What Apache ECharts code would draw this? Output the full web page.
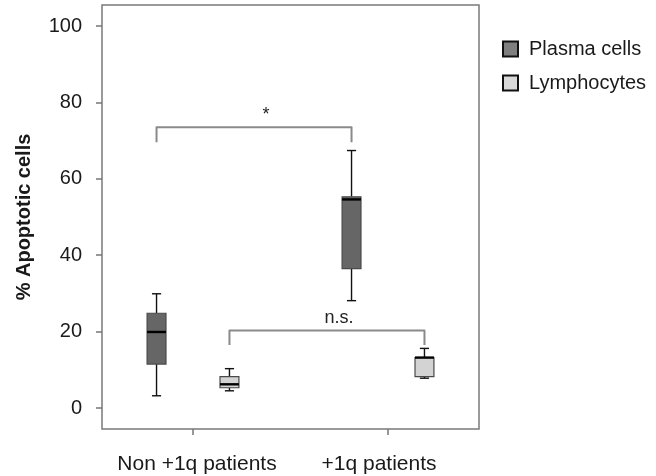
<!DOCTYPE html>
<html>
<head>
<meta charset="utf-8">
<script src="https://cdn.jsdelivr.net/npm/echarts@6/dist/echarts.min.js"></script>
<style>
  html, body { margin: 0; padding: 0; background: #fff; }
  #app { width: 656px; height: 476px; }
</style>
</head>
<body>
<div id="app"></div>
<script>
const groups = ['Non +1q patients', '+1q patients'];
const seriesNames = ['Plasma cells', 'Lymphocytes'];
const yTicks = [0, 20, 40, 60, 80, 100];
// [min, Q1, median, Q3, max] per group
const plasma = [
  [3.2, 11.5, 19.9, 24.8, 29.9],
  [28.1, 36.5, 54.6, 55.3, 67.4]
];
const lympho = [
  [4.5, 5.3, 6.2, 8.2, 10.3],
  [7.8, 8.2, 13.2, 13.2, 15.6]
];
// [series index, from group, to group, bracket foot, bracket top, label]
const brackets = [
  [0, 0, 1, 69.6, 73.5, '*'],
  [1, 0, 1, 16.5, 20.3, 'n.s.']
];

const FONT = 'Liberation Sans, Arial, sans-serif';
const Y_MIN = -5.5, Y_MAX = 105.5;
const SHIFT = 0.187;   // box centre offset, share of band width
const BOX = 0.097;     // box width, share of band width
const CAP = 0.047;     // whisker cap width, share of band width
const myChart = echarts.init(document.getElementById('app'));

const centerX = (api, group, side) => {
  const bw = api.size([1, 0])[0];
  return api.coord([group, 0])[0] + (side === 0 ? -1 : 1) * bw * SHIFT;
};

const renderBox = (params, api) => {
  const g = api.value(0);
  const bw = api.size([1, 0])[0];
  const cx = centerX(api, g, params.seriesIndex);
  const y = k => api.coord([g, api.value(k)])[1];
  const half = bw * BOX / 2, cap = bw * CAP / 2;
  const wStyle = { stroke: '#111', lineWidth: 1.4 };
  return {
    type: 'group',
    children: [
      { type: 'line', shape: { x1: cx, y1: y(1), x2: cx, y2: y(2) }, style: wStyle },
      { type: 'line', shape: { x1: cx, y1: y(4), x2: cx, y2: y(5) }, style: wStyle },
      { type: 'line', shape: { x1: cx - cap, y1: y(1), x2: cx + cap, y2: y(1) }, style: wStyle },
      { type: 'line', shape: { x1: cx - cap, y1: y(5), x2: cx + cap, y2: y(5) }, style: wStyle },
      {
        type: 'rect',
        shape: { x: cx - half, y: y(4), width: half * 2, height: y(2) - y(4) },
        style: { fill: api.visual('color'), stroke: '#4a4a4a', lineWidth: 1.2 }
      },
      { type: 'line', shape: { x1: cx - half, y1: y(3), x2: cx + half, y2: y(3) }, style: { stroke: '#000', lineWidth: 2.4 } }
    ]
  };
};

const renderBracket = (params, api) => {
  const side = api.value(0);
  const x0 = centerX(api, api.value(1), side);
  const x1 = centerX(api, api.value(2), side);
  const yFoot = api.coord([0, api.value(3)])[1];
  const yTop = api.coord([0, api.value(4)])[1];
  const label = brackets[params.dataIndex][5];
  return {
    type: 'group',
    children: [
      {
        type: 'polyline',
        shape: { points: [[x0, yFoot], [x0, yTop], [x1, yTop], [x1, yFoot]] },
        style: { stroke: '#8a8a8a', lineWidth: 2, fill: null, lineJoin: 'round' }
      },
      {
        type: 'text',
        style: {
          text: label,
          x: (x0 + x1) / 2 + 12,
          y: yTop - 12,
          align: 'center',
          verticalAlign: 'middle',
          font: '18px ' + FONT,
          fill: '#222'
        }
      }
    ]
  };
};

const option = {
  animation: false,
  textStyle: { fontFamily: FONT },
  legend: {
    orient: 'vertical',
    left: 497,
    top: 34,
    itemWidth: 15,
    itemHeight: 15,
    itemGap: 14,
    icon: 'rect',
    textStyle: { fontSize: 20, color: '#1a1a1a', padding: [0, 0, 0, 6] },
    data: [
      { name: seriesNames[0], itemStyle: { color: '#7f7f7f', borderColor: '#111', borderWidth: 2 } },
      { name: seriesNames[1], itemStyle: { color: '#d9d9d9', borderColor: '#111', borderWidth: 2 } }
    ]
  },
  grid: [
    { left: 102, right: 177, top: 5, bottom: 47, show: true, borderColor: '#7a7a7a', borderWidth: 1.5 },
    { left: 95.5, right: 170.5, top: 5, bottom: 47 }
  ],
  xAxis: [
    { type: 'category', gridIndex: 0, data: groups, show: false },
    {
      type: 'category',
      gridIndex: 1,
      data: groups.map((g, i) => ({
        value: g,
        textStyle: { padding: i === 0 ? [0, 0, 0, 8] : [0, 18, 0, 0] }
      })),
      axisLine: { show: false, onZero: false },
      axisTick: { show: true, alignWithLabel: true, length: 6, lineStyle: { color: '#777', width: 1.5 } },
      axisLabel: { fontSize: 21, color: '#1a1a1a', margin: 25, interval: 0 },
      splitLine: { show: false }
    }
  ],
  yAxis: [
    {
      type: 'value',
      gridIndex: 0,
      min: Y_MIN,
      max: Y_MAX,
      name: '% Apoptotic cells',
      nameLocation: 'middle',
      nameGap: 68,
      nameTextStyle: { fontSize: 20, fontWeight: 'bold', color: '#1a1a1a' },
      axisLine: { show: false },
      axisTick: { show: true, length: 6, customValues: yTicks, lineStyle: { color: '#777', width: 1.5 } },
      axisLabel: { fontSize: 20, color: '#1a1a1a', margin: 20, customValues: yTicks },
      splitLine: { show: false }
    },
    { type: 'value', gridIndex: 1, min: Y_MIN, max: Y_MAX, show: false, splitLine: { show: false } }
  ],
  series: [
    {
      name: seriesNames[0],
      type: 'custom',
      xAxisIndex: 1,
      yAxisIndex: 1,
      itemStyle: { color: '#666666' },
      renderItem: renderBox,
      data: plasma.map((d, i) => [i].concat(d))
    },
    {
      name: seriesNames[1],
      type: 'custom',
      xAxisIndex: 1,
      yAxisIndex: 1,
      itemStyle: { color: '#d3d3d3' },
      renderItem: renderBox,
      data: lympho.map((d, i) => [i].concat(d))
    },
    {
      type: 'custom',
      xAxisIndex: 1,
      yAxisIndex: 1,
      silent: true,
      renderItem: renderBracket,
      data: brackets.map(b => b.slice(0, 5))
    }
  ]
};

myChart.setOption(option);
</script>
</body>
</html>
